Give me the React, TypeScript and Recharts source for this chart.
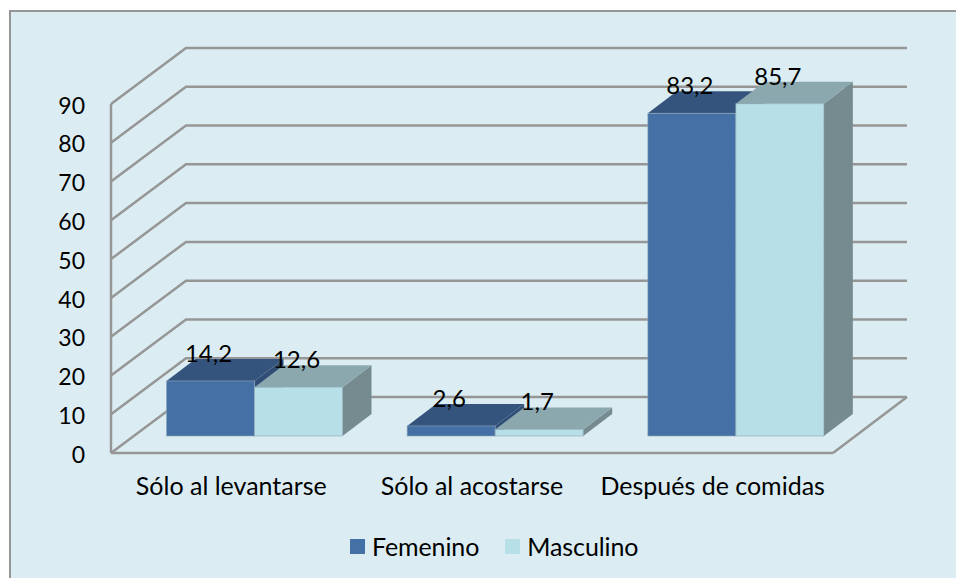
import { BarChart, Bar, XAxis, YAxis, CartesianGrid, Legend, LabelList } from 'recharts';

const categories = ['Sólo al levantarse', 'Sólo al acostarse', 'Después de comidas'];
const femenino = [14.2, 2.6, 83.2];
const masculino = [12.6, 1.7, 85.7];
const yTicks = [0, 10, 20, 30, 40, 50, 60, 70, 80, 90];

const data = categories.map((name, i) => ({ name, femenino: femenino[i], masculino: masculino[i] }));

const FONT = 'Lato, sans-serif';
const TEXT = '#000000';
const WALL = '#969696';

// depth of the fake 3d box: wall offset and bar offset
const WALL_DX = 75;
const WALL_DY = -56;
const BAR_SHIFT_X = 23.5;
const BAR_SHIFT_Y = -17;
const DEPTH_X = 29;
const DEPTH_Y = -22;

const box = (topColor: string, sideColor: string) => (props: any) => {
  const { x, y, width, height, fill } = props;
  const l = x + BAR_SHIFT_X;
  const r = l + width;
  const t = y + BAR_SHIFT_Y;
  const b = t + height;
  return (
    <g>
      <polygon
        points={`${r},${t} ${r + DEPTH_X},${t + DEPTH_Y} ${r + DEPTH_X},${b + DEPTH_Y} ${r},${b}`}
        fill={sideColor}
      />
      <polygon
        points={`${l},${t} ${l + DEPTH_X},${t + DEPTH_Y} ${r + DEPTH_X},${t + DEPTH_Y} ${r},${t}`}
        fill={topColor}
      />
      <rect x={l} y={t} width={width} height={height} fill={fill} stroke="#8FA9B5" strokeWidth={1} strokeOpacity={0.6} />
    </g>
  );
};

const valueLabel = (props: any) => {
  const { x, y, width, value } = props;
  return (
    <text
      x={x + BAR_SHIFT_X + width / 2 - 2}
      y={y + BAR_SHIFT_Y - 28.5}
      textAnchor="middle"
      dominantBaseline="central"
      fontFamily={FONT}
      fontSize={24}
      fill={TEXT}
    >
      {String(value).replace('.', ',')}
    </text>
  );
};

// every horizontal line runs up the side wall and then along the back wall
const wallLine = (props: any) => {
  const { x1, x2, y1, key } = props;
  const isFloor = y1 > 450;
  return (
    <g key={key}>
      <polyline
        points={`${x1},${y1} ${x1 + WALL_DX},${y1 + WALL_DY} ${x2 + WALL_DX - 1},${y1 + WALL_DY}`}
        fill="none"
        stroke={WALL}
        strokeWidth={2.5}
      />
      {isFloor && (
        <line x1={x2} y1={y1} x2={x2 + WALL_DX - 1} y2={y1 + WALL_DY} stroke={WALL} strokeWidth={2.5} />
      )}
    </g>
  );
};

const legendContent = (props: any) => (
  <div style={{ display: 'flex', alignItems: 'center', fontFamily: FONT, fontSize: 25, color: TEXT, lineHeight: '24px' }}>
    {props.payload.map((entry: any) => (
      <div key={entry.value} style={{ display: 'flex', alignItems: 'center', marginRight: 26 }}>
        <span style={{ width: 15, height: 15, background: entry.color, marginRight: 7 }} />
        <span style={{ letterSpacing: -0.1 }}>{entry.value}</span>
      </div>
    ))}
  </div>
);

export default function App() {
  return (
    <div style={{ position: 'absolute', left: 0, top: 0, width: 956, height: 578, background: '#ffffff', overflow: 'hidden' }}>
      <div
        style={{
          position: 'absolute',
          left: 9,
          top: 10,
          right: 0,
          bottom: 0,
          background: '#DBEDF3',
          borderLeft: '2px solid #969696',
          borderTop: '2px solid #969696',
        }}
      />
      <BarChart
        width={956}
        height={578}
        data={data}
        barSize={88}
        barGap={0}
        margin={{ top: 104, right: 123, bottom: 0, left: 0 }}
        style={{ position: 'absolute', left: 0, top: 0 }}
      >
        <CartesianGrid horizontal={wallLine} vertical={false} />
        <XAxis
          dataKey="name"
          height={101}
          interval={0}
          axisLine={{ stroke: WALL, strokeWidth: 2.5 }}
          tickLine={false}
          tickSize={0}
          tickMargin={24}
          tick={{ fontFamily: FONT, fontSize: 25, fill: TEXT }}
        />
        <YAxis
          width={111}
          domain={[0, 90]}
          ticks={yTicks}
          interval={0}
          axisLine={{ stroke: WALL, strokeWidth: 2.5 }}
          tickLine={false}
          tickSize={0}
          tickMargin={26}
          tick={{ fontFamily: FONT, fontSize: 23, fill: TEXT, dy: 1.5 }}
        />
        <Legend
          content={legendContent}
          height={24}
          wrapperStyle={{ left: 350, bottom: 20, width: 320 }}
        />
        <Bar dataKey="femenino" name="Femenino" fill="#4470A5" shape={box('#34547E', '#2F4D75')} isAnimationActive={false}>
          <LabelList dataKey="femenino" content={valueLabel} />
        </Bar>
        <Bar dataKey="masculino" name="Masculino" fill="#B7DFE8" shape={box('#8CA8AF', '#758B90')} isAnimationActive={false}>
          <LabelList dataKey="masculino" content={valueLabel} />
        </Bar>
      </BarChart>
    </div>
  );
}
